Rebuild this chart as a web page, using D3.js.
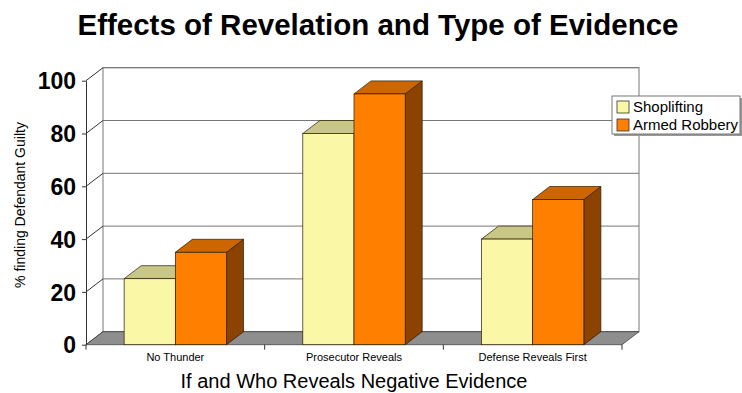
<!DOCTYPE html>
<html>
<head>
<meta charset="utf-8">
<script src="https://cdn.jsdelivr.net/npm/d3@7"></script>
<style>
  body { margin: 0; background: #fff; }
  text { font-family: "Liberation Sans", Arial, sans-serif; }
</style>
</head>
<body>
<div id="chart"></div>
<script>
// data
const categories = ["No Thunder", "Prosecutor Reveals", "Defense Reveals First"];
const seriesNames = ["Shoplifting", "Armed Robbery"];
const shoplifting = [25, 80, 40];
const armedRobbery = [35, 95, 55];
const yTicks = [0, 20, 40, 60, 80, 100];

const width = 742, height = 393;
const depthX = 17, depthY = 13;

// colours per series: front, top, side
const colors = {
  "Shoplifting":   { front: "#faf7a6", top: "#c8c786", side: "#9c9a5c" },
  "Armed Robbery": { front: "#ff8000", top: "#cc6600", side: "#8c4200" }
};

const svg = d3.select("#chart")
  .append("svg")
  .attr("width", width)
  .attr("height", height);

const x0 = d3.scaleBand().domain(categories).range([86, 622]).padding(0);
const x1 = d3.scaleBand().domain(seriesNames).range([0, x0.bandwidth()])
  .paddingInner(0).paddingOuter(0.745);
const y = d3.scaleLinear().domain([0, 100]).range([344.7, 80.7]);

const x0Left = x0.range()[0], x0Right = x0.range()[1];

// back wall
svg.append("rect")
  .attr("x", x0Left + depthX)
  .attr("y", y(100) - depthY)
  .attr("width", x0Right - x0Left)
  .attr("height", y(0) - y(100))
  .style("fill", "#fff")
  .style("stroke", "#777")
  .style("stroke-width", 1);

// gridlines on the back wall + diagonals on the left wall
svg.append("g").selectAll("line")
  .data(yTicks)
  .join("line")
  .attr("x1", x0Left + depthX)
  .attr("x2", x0Right + depthX)
  .attr("y1", d => y(d) - depthY)
  .attr("y2", d => y(d) - depthY)
  .style("stroke", "#777")
  .style("stroke-width", 1);

svg.append("g").selectAll("line")
  .data(yTicks)
  .join("line")
  .attr("x1", x0Left)
  .attr("x2", x0Left + depthX)
  .attr("y1", d => y(d))
  .attr("y2", d => y(d) - depthY)
  .style("stroke", "#333")
  .style("stroke-width", 1);

// floor
svg.append("polygon")
  .attr("points", [
    [x0Left, y(0)], [x0Right, y(0)],
    [x0Right + depthX, y(0) - depthY], [x0Left + depthX, y(0) - depthY]
  ].map(p => p.join(",")).join(" "))
  .style("fill", "#8e8e8e")
  .style("stroke", "#444")
  .style("stroke-width", 0.8);

// y axis (front)
const yAxis = d3.axisLeft(y).tickValues(yTicks).tickSize(4).tickSizeOuter(0).tickPadding(6);
const ya = svg.append("g")
  .attr("transform", "translate(" + x0Left + ",0)")
  .call(yAxis);
ya.select(".domain").style("stroke", "#333");
ya.selectAll(".tick line").style("stroke", "#333");
ya.selectAll(".tick text")
  .style("font-size", "23px")
  .style("font-weight", "bold")
  .style("fill", "#000")
  .attr("dy", "0.36em");

// x axis (front bottom edge)
const xAxis = d3.axisBottom(x0).tickSize(0).tickPadding(9);
const xa = svg.append("g")
  .attr("transform", "translate(0," + y(0) + ")")
  .call(xAxis);
xa.select(".domain").remove();
xa.selectAll(".tick text")
  .style("font-size", "11px")
  .style("fill", "#000");

// category boundary ticks
svg.append("g").selectAll("line")
  .data(d3.range(categories.length + 1))
  .join("line")
  .attr("x1", i => x0Left + i * x0.step())
  .attr("x2", i => x0Left + i * x0.step())
  .attr("y1", y(0))
  .attr("y2", y(0) + 5)
  .style("stroke", "#333")
  .style("stroke-width", 1);

// bars
const rows = [];
categories.forEach((c, i) => {
  rows.push({ cat: c, series: "Shoplifting", value: shoplifting[i] });
  rows.push({ cat: c, series: "Armed Robbery", value: armedRobbery[i] });
});

const bars = svg.append("g").selectAll("g")
  .data(rows)
  .join("g");

bars.each(function (d) {
  const g = d3.select(this);
  const xl = x0(d.cat) + x1(d.series);
  const xr = xl + x1.bandwidth();
  const yt = y(d.value), yb = y(0);
  const col = colors[d.series];
  const pts = a => a.map(p => p.join(",")).join(" ");

  g.append("polygon")
    .attr("points", pts([[xr, yt], [xr + depthX, yt - depthY], [xr + depthX, yb - depthY], [xr, yb]]))
    .style("fill", col.side).style("stroke", "#2a1a00").style("stroke-width", 0.7);
  g.append("polygon")
    .attr("points", pts([[xl, yt], [xl + depthX, yt - depthY], [xr + depthX, yt - depthY], [xr, yt]]))
    .style("fill", col.top).style("stroke", "#2a1a00").style("stroke-width", 0.7);
  g.append("rect")
    .attr("x", xl).attr("y", yt)
    .attr("width", xr - xl).attr("height", yb - yt)
    .style("fill", col.front).style("stroke", "#2a1a00").style("stroke-width", 0.7);
});

// title
svg.append("text")
  .attr("x", 378)
  .attr("y", 35)
  .attr("text-anchor", "middle")
  .style("font-size", "29.5px")
  .style("font-weight", "bold")
  .text("Effects of Revelation and Type of Evidence");

// axis titles
svg.append("text")
  .attr("x", 354)
  .attr("y", 388)
  .attr("text-anchor", "middle")
  .style("font-size", "20px")
  .text("If and Who Reveals Negative Evidence");

svg.append("text")
  .attr("transform", "translate(25,205) rotate(-90)")
  .attr("text-anchor", "middle")
  .style("font-size", "14px")
  .text("% finding Defendant Guilty");

// legend
const legend = svg.append("g").attr("transform", "translate(612,96)");
legend.append("rect")
  .attr("x", 2).attr("y", 2).attr("width", 128).attr("height", 38)
  .style("fill", "#999");
legend.append("rect")
  .attr("x", 0).attr("y", 0).attr("width", 128).attr("height", 38)
  .style("fill", "#fff").style("stroke", "#777").style("stroke-width", 1);
const li = legend.selectAll("g.item")
  .data(seriesNames)
  .join("g")
  .attr("class", "item")
  .attr("transform", (d, i) => "translate(5," + (5 + i * 18) + ")");
li.append("rect")
  .attr("width", 12).attr("height", 12)
  .style("fill", d => colors[d].front)
  .style("stroke", "#333").style("stroke-width", 0.8);
li.append("text")
  .attr("x", 16).attr("y", 11)
  .style("font-size", "15px")
  .text(d => d);
</script>
</body>
</html>
